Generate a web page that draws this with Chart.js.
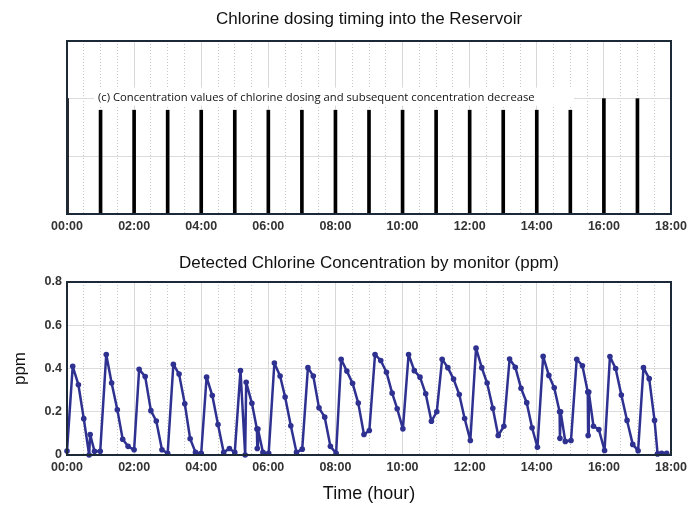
<!DOCTYPE html>
<html>
<head>
<meta charset="utf-8">
<script src="https://cdn.jsdelivr.net/npm/chart.js@4.4.1/dist/chart.umd.min.js"></script>
<style>
    html, body { margin: 0; padding: 0; background: #fff; }
    #wrap { position: relative; width: 688px; height: 507px; }
    .panel { position: absolute; left: 0; width: 688px; }
</style>
</head>
<body>
<div id="wrap">
    <div class="panel" style="top:0;height:240px"><canvas id="dosingChart"></canvas></div>
    <div class="panel" style="top:240px;height:267px"><canvas id="concChart"></canvas></div>
</div>
<script>
// DOSING EVENTS (hour of day, pulse height)
const dosingHours = [0, 1, 2, 3, 4, 5, 6, 7, 8, 9, 10, 11, 12, 13, 14, 15, 16, 17];
const dosingLevel = [2, 1.8, 1.8, 1.8, 1.8, 1.8, 1.8, 1.8, 1.8, 1.8, 1.8, 1.8, 1.8, 1.8, 1.8, 1.8, 2, 2];

// MONITOR READINGS (hour of day, ppm)
const sampleHours = [
    0.00, 0.17, 0.34, 0.50, 0.66, 0.69, 0.82, 0.99,
    1.17, 1.33, 1.50, 1.66, 1.82, 2.00,
    2.15, 2.33, 2.50, 2.66, 2.83, 3.00,
    3.17, 3.34, 3.51, 3.67, 3.83, 4.00,
    4.16, 4.33, 4.50, 4.67, 4.84, 5.00,
    5.17, 5.31, 5.34, 5.51, 5.66, 5.67, 5.69, 5.84, 6.01,
    6.18, 6.35, 6.50, 6.67, 6.84, 7.01,
    7.18, 7.34, 7.51, 7.68, 7.85, 8.02,
    8.17, 8.34, 8.51, 8.68, 8.85, 9.01,
    9.18, 9.35, 9.52, 9.69, 9.84, 10.01,
    10.18, 10.35, 10.52, 10.69, 10.86, 11.02,
    11.18, 11.35, 11.52, 11.69, 11.85, 12.02,
    12.19, 12.36, 12.52, 12.69, 12.85, 13.02,
    13.19, 13.36, 13.53, 13.70, 13.86, 14.02,
    14.19, 14.36, 14.52, 14.68, 14.69, 14.71, 14.85, 15.02,
    15.19, 15.36, 15.52, 15.53, 15.55, 15.69, 15.85, 16.02,
    16.18, 16.35, 16.52, 16.69, 16.86, 17.02,
    17.18, 17.35, 17.51, 17.60, 17.72, 17.87
];
const ppmValues = [
    0.018, 0.41, 0.325, 0.168, 0.0, 0.095, 0.017, 0.017,
    0.465, 0.333, 0.209, 0.073, 0.04, 0.024,
    0.396, 0.363, 0.205, 0.157, 0.024, 0.008,
    0.419, 0.374, 0.237, 0.075, 0.012, 0.008,
    0.36, 0.275, 0.141, 0.012, 0.03, 0.012,
    0.39, 0.0, 0.336, 0.239, 0.12, 0.03, 0.12, 0.012, 0.008,
    0.425, 0.365, 0.268, 0.135, 0.012, 0.027,
    0.404, 0.365, 0.218, 0.175, 0.04, 0.008,
    0.443, 0.388, 0.332, 0.24, 0.095, 0.113,
    0.465, 0.437, 0.383, 0.286, 0.214, 0.121,
    0.465, 0.39, 0.36, 0.283, 0.156, 0.2,
    0.443, 0.404, 0.351, 0.28, 0.169, 0.067,
    0.494, 0.404, 0.333, 0.216, 0.09, 0.133,
    0.444, 0.406, 0.309, 0.242, 0.126, 0.036,
    0.456, 0.368, 0.311, 0.2, 0.077, 0.2, 0.063, 0.067,
    0.443, 0.413, 0.291, 0.09, 0.291, 0.133, 0.118, 0.021,
    0.455, 0.4, 0.277, 0.16, 0.049, 0.02,
    0.404, 0.353, 0.16, 0.005, 0.008, 0.008
];

const hourLabel = (v) => String(v).padStart(2, "0") + ":00";
const tickFont = { family: "'Liberation Sans', Arial, sans-serif", size: 12.5, weight: "bold" };
const tickVal = (c) => (c.tick ? c.tick.value : NaN);

// dark frame round the plot area + panel title above it
const framePlugin = {
    id: "frame",
    afterDraw(chart) {
        const { ctx, chartArea: a } = chart;
        ctx.save();
        ctx.strokeStyle = "#1c2a38";
        ctx.lineWidth = 2;
        ctx.strokeRect(a.left, a.top, a.right - a.left, a.bottom - a.top);
        const t = chart.options.plugins.frame;
        ctx.fillStyle = "#111";
        ctx.font = "17px 'Liberation Sans', Arial, sans-serif";
        ctx.textAlign = "center";
        ctx.textBaseline = "middle";
        ctx.fillText(t.title, (a.left + a.right) / 2, a.top - t.offset);
        ctx.restore();
    },
};

// caption printed inside the dosing panel, on a white strip
const captionPlugin = {
    id: "caption",
    beforeDatasetsDraw(chart) {
        const { ctx, chartArea: a, scales } = chart;
        const y = scales.y.getPixelForValue(2) - 1;
        ctx.save();
        ctx.fillStyle = "#fff";
        ctx.fillRect(a.left + 27, y - 10, 480, 18);
        const text = "(c) Concentration values of chlorine dosing and subsequent concentration decrease";
        ctx.font = "12px 'Open Sans', sans-serif";
        const size = 12 * 437 / ctx.measureText(text).width;
        ctx.font = size.toFixed(2) + "px 'Open Sans', sans-serif";
        ctx.fillStyle = "#111";
        ctx.textBaseline = "middle";
        ctx.fillText(text, a.left + 31, y);
        ctx.restore();
    },
};

const noEdgePad = (s) => { s.paddingLeft = 0; s.paddingRight = 0; };

const minorAxis = {
    type: "linear",
    position: "bottom",
    min: 0,
    max: 18,
    offset: false,
    ticks: { display: false, stepSize: 0.5 },
    grid: {
        offset: false,
        drawTicks: false,
        color: (c) => (tickVal(c) % 2 === 0 ? "rgba(0,0,0,0)" : "#c8c8c8"),
    },
    border: { display: false, dash: [1, 2] },
    afterFit: (s) => { s.height = 0; noEdgePad(s); },
};

const mainX = (h, title) => ({
    type: "linear",
    position: "bottom",
    min: 0,
    max: 18,
    offset: false,
    ticks: { stepSize: 2, color: "#333", font: tickFont, padding: 5, maxRotation: 0, autoSkip: false, callback: hourLabel },
    grid: { offset: false, drawTicks: false, color: "#d8d8d8" },
    border: { display: false },
    title: title,
    afterFit: (s) => { s.height = h; noEdgePad(s); },
});

// DOSING CHART
const dosingChart = new Chart(document.getElementById("dosingChart"), {
    type: "bar",
    data: {
        datasets: [
            {
                data: dosingHours.map((h, i) => ({ x: h, y: dosingLevel[i] })),
                backgroundColor: "#000",
                barThickness: 3,
            },
        ],
    },
    options: {
        responsive: true,
        maintainAspectRatio: false,
        animation: false,
        layout: { padding: { left: 0, right: 17, top: 41, bottom: 0 } },
        scales: {
            xMinor: minorAxis,
            x: mainX(26, { display: false }),
            y: {
                min: 0,
                max: 3,
                ticks: { display: false, stepSize: 1 },
                grid: {
                    drawTicks: false,
                    color: (c) => (tickVal(c) === 1 || tickVal(c) === 2 ? "#dcdcdc" : "rgba(0,0,0,0)"),
                },
                border: { display: false },
                afterFit: (s) => { s.width = 67; },
            },
        },
        plugins: {
            legend: { display: false },
            tooltip: { enabled: false },
            frame: { title: "Chlorine dosing timing into the Reservoir", offset: 22 },
        },
    },
    plugins: [captionPlugin, framePlugin],
});

// CONCENTRATION CHART
const concChart = new Chart(document.getElementById("concChart"), {
    type: "line",
    data: {
        datasets: [
            {
                data: sampleHours.map((h, i) => ({ x: h, y: ppmValues[i] })),
                borderColor: "#2e3190",
                backgroundColor: "#2e3190",
                borderWidth: 2.5,
                borderJoinStyle: "round",
                borderCapStyle: "round",
                pointRadius: 2.8,
                pointBackgroundColor: "#2e3190",
                pointBorderWidth: 0,
                tension: 0,
                clip: false,
            },
        ],
    },
    options: {
        responsive: true,
        maintainAspectRatio: false,
        animation: false,
        layout: { padding: { left: 0, right: 17, top: 42, bottom: 0 } },
        scales: {
            xMinor: minorAxis,
            x: mainX(52, {
                display: true,
                text: "Time (hour)",
                color: "#111",
                font: { family: "'Liberation Sans', Arial, sans-serif", size: 18 },
                padding: { top: 0, bottom: 2 },
            }),
            y: {
                min: 0,
                max: 0.8,
                ticks: {
                    stepSize: 0.2,
                    color: "#333",
                    font: tickFont,
                    padding: 5,
                    callback: (v) => (v === 0 ? "0" : v.toFixed(1)),
                },
                grid: {
                    drawTicks: false,
                    color: (c) => (tickVal(c) > 0.01 && tickVal(c) < 0.79 ? "#dcdcdc" : "rgba(0,0,0,0)"),
                },
                border: { display: false },
                title: {
                    display: true,
                    text: "ppm",
                    color: "#111",
                    font: { family: "'Liberation Sans', Arial, sans-serif", size: 17 },
                    padding: { top: 10, bottom: 0 },
                },
                afterFit: (s) => { s.width = 67; },
            },
        },
        plugins: {
            legend: { display: false },
            tooltip: { enabled: false },
            frame: { title: "Detected Chlorine Concentration by monitor (ppm)", offset: 19 },
        },
    },
    plugins: [framePlugin],
});
</script>
</body>
</html>
